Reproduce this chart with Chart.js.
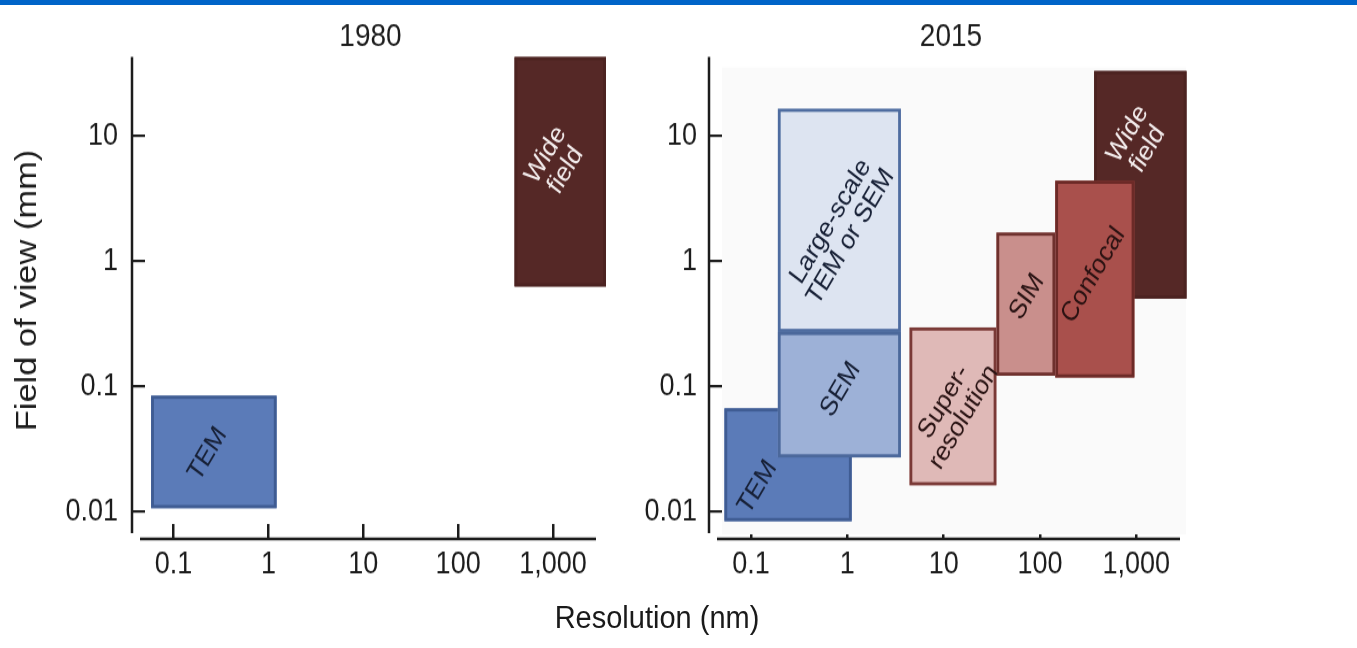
<!DOCTYPE html>
<html>
<head>
<meta charset="utf-8">
<script src="https://cdn.jsdelivr.net/npm/chart.js@4"></script>
<style>
  html, body { margin: 0; padding: 0; background: #fff; }
  #page { position: relative; width: 1357px; height: 648px; overflow: hidden; font-family: "Liberation Sans", Arial, sans-serif; }
  #topBar { position: absolute; left: 0; top: 0; width: 1357px; height: 5px; background: #0064c8; }
  /* the source figure is stretched vertically, so the canvases are too */
  canvas { position: absolute; top: 0; transform: scaleY(1.149); transform-origin: 0 0; }
  #c1980 { left: 0; }
  #c2015 { left: 620px; }
  #xTitle { position: absolute; left: 657px; top: 618px; transform: translate(-50%, -50%) scaleY(1.1); font-size: 29px; color: #1a1a1a; white-space: nowrap; }
</style>
</head>
<body>
<div id="page">
  <canvas id="c1980" width="660" height="564"></canvas>
  <canvas id="c2015" width="737" height="564"></canvas>
  <div id="topBar"></div>
  <div id="xTitle">Resolution (nm)</div>
</div>
<script>
// axes (resolution in nm, field of view in mm)
const xTicks = [0.1, 1, 10, 100, 1000];
const xTickLabels = ["0.1", "1", "10", "100", "1,000"];
const yTicks = [0.01, 0.1, 1, 10];
const yTickLabels = ["0.01", "0.1", "1", "10"];
const xRange = [0.05, 2840];
const yRange = [0.008, 42.4];

// 1980
const methods1980 = ["TEM", "Wide\nfield"];
const resLow1980 = [0.058, 393];
const resHigh1980 = [1.22, 3620];
const fovLow1980 = [0.0107, 0.627];
const fovHigh1980 = [0.0843, 42.4];

// 2015, listed in drawing order
const methods2015 = ["TEM", "SEM", "Large-scale\nTEM or SEM", "Super-\nresolution", "Wide\nfield", "Confocal", "SIM"];
const resLow2015 = [0.053, 0.19, 0.19, 4.42, 365, 144, 35.3];
const resHigh2015 = [1.11, 3.6, 3.6, 35.3, 3320, 955, 144];
const fovLow2015 = [0.00843, 0.0272, 0.272, 0.0163, 0.502, 0.118, 0.122];
const fovHigh2015 = [0.0668, 0.272, 16.4, 0.295, 32.8, 4.37, 1.685];

const ink = "#1c1c1c";
const fontFamily = "'Liberation Sans', Arial, Helvetica, sans-serif";

const styles = {
  tem: { fill: "#5b7bb8", stroke: "#3f5c93", text: "#172036" },
  sem: { fill: "#9db1d7", stroke: "#4b689b", text: "#172036" },
  large: { fill: "#dde4f1", stroke: "#4e6ca0", text: "#172036" },
  superres: { fill: "#dfb9b7", stroke: "#7a3936", text: "#2a1414" },
  sim: { fill: "#c98f8c", stroke: "#6e302d", text: "#2a1414" },
  confocal: { fill: "#a9504c", stroke: "#6c2a27", text: "#2a1212" },
  wide: { fill: "#552826", stroke: "#4c2321", text: "#f3ecec" },
};

// per box: style key and where the label sits inside the box (fraction from left, fraction from bottom)
const look1980 = [
  { s: "tem", fx: 0.45, fy: 0.48 },
  { s: "wide", fx: 0.45, fy: 0.54 },
];
const look2015 = [
  { s: "tem", fx: 0.26, fy: 0.3 },
  { s: "sem", fx: 0.51, fy: 0.54 },
  { s: "large", fx: 0.51, fy: 0.46 },
  { s: "superres", fx: 0.51, fy: 0.48 },
  { s: "wide", fx: 0.47, fy: 0.69 },
  { s: "confocal", fx: 0.48, fy: 0.52 },
  { s: "sim", fx: 0.52, fy: 0.55 },
];

const makeBoxPlugin = (panel) => ({
  id: "boxes",
  beforeDatasetsDraw(chart) {
    const { ctx, chartArea: a, scales: { x, y } } = chart;
    ctx.save();
    if (panel.background) {
      ctx.fillStyle = panel.background;
      ctx.fillRect(a.left, a.top + 9, a.right - a.left + 6, a.bottom - a.top);
    }
    const rects = panel.names.map((name, i) => {
      const left = x.getPixelForValue(panel.xLow[i]);
      const right = x.getPixelForValue(panel.xHigh[i]);
      const top = y.getPixelForValue(panel.yHigh[i]);
      const bottom = y.getPixelForValue(panel.yLow[i]);
      const st = styles[panel.look[i].s];
      ctx.fillStyle = st.fill;
      ctx.fillRect(left, top, right - left, bottom - top);
      ctx.lineWidth = 2.8;
      ctx.strokeStyle = st.stroke;
      ctx.strokeRect(left + 1.4, top + 1.3, right - left - 2.8, bottom - top - 2.6);
      return { left, right, top, bottom };
    });
    // labels last so no box covers them
    ctx.font = "24px " + fontFamily;
    ctx.textAlign = "center";
    ctx.textBaseline = "middle";
    panel.names.forEach((name, i) => {
      const r = rects[i];
      const lk = panel.look[i];
      const cx = r.left + lk.fx * (r.right - r.left);
      const cy = r.bottom - lk.fy * (r.bottom - r.top);
      const lines = name.split("\n");
      ctx.save();
      ctx.translate(cx, cy);
      ctx.rotate(-56 * Math.PI / 180);
      ctx.fillStyle = styles[lk.s].text;
      lines.forEach((line, k) => ctx.fillText(line, 0, (k - (lines.length - 1) / 2) * 24));
      ctx.restore();
    });
    ctx.restore();
  },
});

const spinePlugin = {
  id: "spines",
  afterDraw(chart) {
    const { ctx, chartArea: a } = chart;
    ctx.save();
    ctx.strokeStyle = ink;
    ctx.lineWidth = 2.5;
    ctx.beginPath();
    ctx.moveTo(a.left - 13, a.top);
    ctx.lineTo(a.left - 13, a.bottom + 8);
    ctx.stroke();
    ctx.lineWidth = 2.3;
    ctx.beginPath();
    ctx.moveTo(a.left - 5, a.bottom + 13);
    ctx.lineTo(a.right, a.bottom + 13);
    ctx.stroke();
    ctx.restore();
  },
};

const makePanel = (canvasId, title, panel, yWidth, padRight, showYTitle) =>
  new Chart(document.getElementById(canvasId), {
    type: "scatter",
    data: { datasets: [{ data: [] }] },
    options: {
      responsive: false,
      animation: false,
      devicePixelRatio: 1,
      layout: { padding: { left: 0, right: padRight, top: 0, bottom: 0 } },
      plugins: {
        legend: { display: false },
        tooltip: { enabled: false },
        title: {
          display: true,
          text: title,
          fullSize: false,
          color: ink,
          font: { family: fontFamily, size: 28, weight: "normal" },
          padding: { top: 15.4, bottom: 0.6 },
        },
      },
      scales: {
        x: {
          type: "logarithmic",
          min: xRange[0],
          max: xRange[1],
          afterBuildTicks: (s) => { s.ticks = xTicks.map((v) => ({ value: v })); },
          afterFit: (s) => { s.height = 108; },
          grid: { drawOnChartArea: false, tickLength: 13, color: ink, lineWidth: 2.5 },
          border: { display: false },
          ticks: {
            callback: (v, i) => xTickLabels[i],
            color: ink,
            font: { family: fontFamily, size: 27 },
            padding: 6.5,
            maxRotation: 0,
            autoSkip: false,
          },
        },
        y: {
          type: "logarithmic",
          min: yRange[0],
          max: yRange[1],
          afterBuildTicks: (s) => { s.ticks = yTicks.map((v) => ({ value: v })); },
          afterFit: (s) => { s.width = yWidth; },
          grid: { drawOnChartArea: false, tickLength: 13, color: ink, lineWidth: 2.2 },
          border: { display: false },
          ticks: {
            callback: (v, i) => yTickLabels[i],
            color: ink,
            font: { family: fontFamily, size: 27 },
            padding: showYTitle ? 14 : 12,
            autoSkip: false,
          },
          title: {
            display: showYTitle,
            text: "Field of view (mm)",
            color: ink,
            font: { family: fontFamily, size: 30 },
            padding: { top: 10, bottom: 0 },
          },
        },
      },
    },
    plugins: [makeBoxPlugin(panel), spinePlugin],
  });

makePanel("c1980", "1980", {
  names: methods1980, xLow: resLow1980, xHigh: resHigh1980,
  yLow: fovLow1980, yHigh: fovHigh1980, look: look1980,
}, 145, 64, true);

makePanel("c2015", "2015", {
  names: methods2015, xLow: resLow2015, xHigh: resHigh2015,
  yLow: fovLow2015, yHigh: fovHigh2015, look: look2015,
  background: "#fafafa",
}, 102, 177, false);
</script>
</body>
</html>
